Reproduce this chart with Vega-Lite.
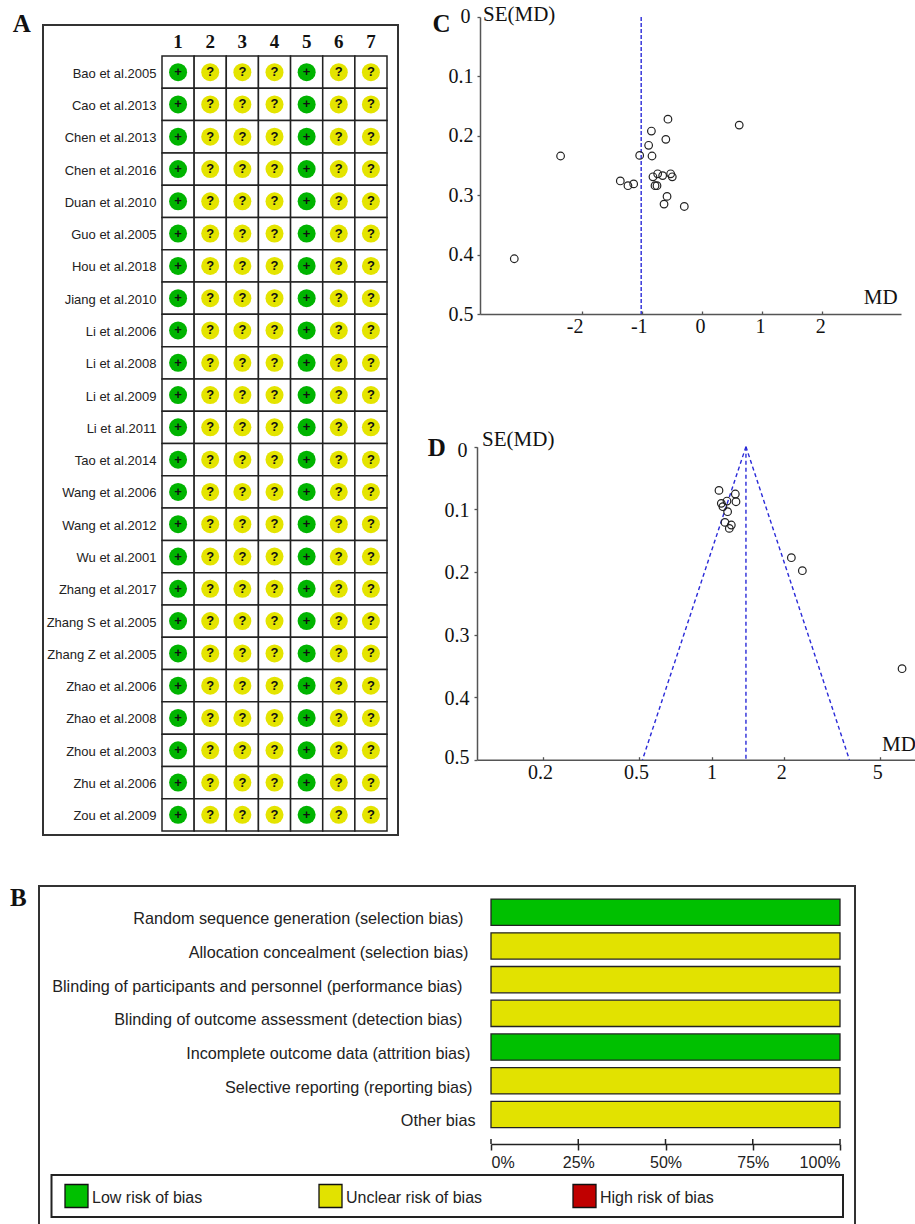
{"$schema":"https://vega.github.io/schema/vega-lite/v6.json","width":915,"height":1224,"autosize":{"type":"none"},"padding":0,"background":"white","config":{"view":{"stroke":null},"axis":{"grid":false,"title":null}},"resolve":{"scale":{"x":"independent","y":"independent","color":"independent"},"axis":{"x":"independent","y":"independent"}},"layer":[
{"data":{"values":[{"letter":"A"}]},"layer":[
{"mark":{"type":"rect","fill":"transparent","stroke":"#333","strokeWidth":2},"encoding":{"x":{"datum":0,"scale":{"domain":[0,1],"range":[43,398],"nice":false,"zero":false},"axis":null},"x2":{"datum":1},"y":{"datum":0,"scale":{"domain":[0,1],"range":[25,835],"nice":false,"zero":false},"axis":null},"y2":{"datum":1}}},
{"mark":{"type":"text","font":"Liberation Serif","fontWeight":"bold","fontSize":25,"align":"left","baseline":"middle","color":"#111"},"encoding":{"x":{"datum":-0.085,"scale":{"domain":[0,1],"range":[43,398],"nice":false,"zero":false},"axis":null},"y":{"datum":-0.001,"scale":{"domain":[0,1],"range":[25,835],"nice":false,"zero":false},"axis":null},"text":{"field":"letter"}}}
]},
{"data":{"name":"cells","values":[
{"study":"Bao et al.2005","domain":1,"sign":"+"},{"study":"Bao et al.2005","domain":2,"sign":"?"},{"study":"Bao et al.2005","domain":3,"sign":"?"},{"study":"Bao et al.2005","domain":4,"sign":"?"},{"study":"Bao et al.2005","domain":5,"sign":"+"},{"study":"Bao et al.2005","domain":6,"sign":"?"},{"study":"Bao et al.2005","domain":7,"sign":"?"},
{"study":"Cao et al.2013","domain":1,"sign":"+"},{"study":"Cao et al.2013","domain":2,"sign":"?"},{"study":"Cao et al.2013","domain":3,"sign":"?"},{"study":"Cao et al.2013","domain":4,"sign":"?"},{"study":"Cao et al.2013","domain":5,"sign":"+"},{"study":"Cao et al.2013","domain":6,"sign":"?"},{"study":"Cao et al.2013","domain":7,"sign":"?"},
{"study":"Chen et al.2013","domain":1,"sign":"+"},{"study":"Chen et al.2013","domain":2,"sign":"?"},{"study":"Chen et al.2013","domain":3,"sign":"?"},{"study":"Chen et al.2013","domain":4,"sign":"?"},{"study":"Chen et al.2013","domain":5,"sign":"+"},{"study":"Chen et al.2013","domain":6,"sign":"?"},{"study":"Chen et al.2013","domain":7,"sign":"?"},
{"study":"Chen et al.2016","domain":1,"sign":"+"},{"study":"Chen et al.2016","domain":2,"sign":"?"},{"study":"Chen et al.2016","domain":3,"sign":"?"},{"study":"Chen et al.2016","domain":4,"sign":"?"},{"study":"Chen et al.2016","domain":5,"sign":"+"},{"study":"Chen et al.2016","domain":6,"sign":"?"},{"study":"Chen et al.2016","domain":7,"sign":"?"},
{"study":"Duan et al.2010","domain":1,"sign":"+"},{"study":"Duan et al.2010","domain":2,"sign":"?"},{"study":"Duan et al.2010","domain":3,"sign":"?"},{"study":"Duan et al.2010","domain":4,"sign":"?"},{"study":"Duan et al.2010","domain":5,"sign":"+"},{"study":"Duan et al.2010","domain":6,"sign":"?"},{"study":"Duan et al.2010","domain":7,"sign":"?"},
{"study":"Guo et al.2005","domain":1,"sign":"+"},{"study":"Guo et al.2005","domain":2,"sign":"?"},{"study":"Guo et al.2005","domain":3,"sign":"?"},{"study":"Guo et al.2005","domain":4,"sign":"?"},{"study":"Guo et al.2005","domain":5,"sign":"+"},{"study":"Guo et al.2005","domain":6,"sign":"?"},{"study":"Guo et al.2005","domain":7,"sign":"?"},
{"study":"Hou et al.2018","domain":1,"sign":"+"},{"study":"Hou et al.2018","domain":2,"sign":"?"},{"study":"Hou et al.2018","domain":3,"sign":"?"},{"study":"Hou et al.2018","domain":4,"sign":"?"},{"study":"Hou et al.2018","domain":5,"sign":"+"},{"study":"Hou et al.2018","domain":6,"sign":"?"},{"study":"Hou et al.2018","domain":7,"sign":"?"},
{"study":"Jiang et al.2010","domain":1,"sign":"+"},{"study":"Jiang et al.2010","domain":2,"sign":"?"},{"study":"Jiang et al.2010","domain":3,"sign":"?"},{"study":"Jiang et al.2010","domain":4,"sign":"?"},{"study":"Jiang et al.2010","domain":5,"sign":"+"},{"study":"Jiang et al.2010","domain":6,"sign":"?"},{"study":"Jiang et al.2010","domain":7,"sign":"?"},
{"study":"Li et al.2006","domain":1,"sign":"+"},{"study":"Li et al.2006","domain":2,"sign":"?"},{"study":"Li et al.2006","domain":3,"sign":"?"},{"study":"Li et al.2006","domain":4,"sign":"?"},{"study":"Li et al.2006","domain":5,"sign":"+"},{"study":"Li et al.2006","domain":6,"sign":"?"},{"study":"Li et al.2006","domain":7,"sign":"?"},
{"study":"Li et al.2008","domain":1,"sign":"+"},{"study":"Li et al.2008","domain":2,"sign":"?"},{"study":"Li et al.2008","domain":3,"sign":"?"},{"study":"Li et al.2008","domain":4,"sign":"?"},{"study":"Li et al.2008","domain":5,"sign":"+"},{"study":"Li et al.2008","domain":6,"sign":"?"},{"study":"Li et al.2008","domain":7,"sign":"?"},
{"study":"Li et al.2009","domain":1,"sign":"+"},{"study":"Li et al.2009","domain":2,"sign":"?"},{"study":"Li et al.2009","domain":3,"sign":"?"},{"study":"Li et al.2009","domain":4,"sign":"?"},{"study":"Li et al.2009","domain":5,"sign":"+"},{"study":"Li et al.2009","domain":6,"sign":"?"},{"study":"Li et al.2009","domain":7,"sign":"?"},
{"study":"Li et al.2011","domain":1,"sign":"+"},{"study":"Li et al.2011","domain":2,"sign":"?"},{"study":"Li et al.2011","domain":3,"sign":"?"},{"study":"Li et al.2011","domain":4,"sign":"?"},{"study":"Li et al.2011","domain":5,"sign":"+"},{"study":"Li et al.2011","domain":6,"sign":"?"},{"study":"Li et al.2011","domain":7,"sign":"?"},
{"study":"Tao et al.2014","domain":1,"sign":"+"},{"study":"Tao et al.2014","domain":2,"sign":"?"},{"study":"Tao et al.2014","domain":3,"sign":"?"},{"study":"Tao et al.2014","domain":4,"sign":"?"},{"study":"Tao et al.2014","domain":5,"sign":"+"},{"study":"Tao et al.2014","domain":6,"sign":"?"},{"study":"Tao et al.2014","domain":7,"sign":"?"},
{"study":"Wang et al.2006","domain":1,"sign":"+"},{"study":"Wang et al.2006","domain":2,"sign":"?"},{"study":"Wang et al.2006","domain":3,"sign":"?"},{"study":"Wang et al.2006","domain":4,"sign":"?"},{"study":"Wang et al.2006","domain":5,"sign":"+"},{"study":"Wang et al.2006","domain":6,"sign":"?"},{"study":"Wang et al.2006","domain":7,"sign":"?"},
{"study":"Wang et al.2012","domain":1,"sign":"+"},{"study":"Wang et al.2012","domain":2,"sign":"?"},{"study":"Wang et al.2012","domain":3,"sign":"?"},{"study":"Wang et al.2012","domain":4,"sign":"?"},{"study":"Wang et al.2012","domain":5,"sign":"+"},{"study":"Wang et al.2012","domain":6,"sign":"?"},{"study":"Wang et al.2012","domain":7,"sign":"?"},
{"study":"Wu et al.2001","domain":1,"sign":"+"},{"study":"Wu et al.2001","domain":2,"sign":"?"},{"study":"Wu et al.2001","domain":3,"sign":"?"},{"study":"Wu et al.2001","domain":4,"sign":"?"},{"study":"Wu et al.2001","domain":5,"sign":"+"},{"study":"Wu et al.2001","domain":6,"sign":"?"},{"study":"Wu et al.2001","domain":7,"sign":"?"},
{"study":"Zhang et al.2017","domain":1,"sign":"+"},{"study":"Zhang et al.2017","domain":2,"sign":"?"},{"study":"Zhang et al.2017","domain":3,"sign":"?"},{"study":"Zhang et al.2017","domain":4,"sign":"?"},{"study":"Zhang et al.2017","domain":5,"sign":"+"},{"study":"Zhang et al.2017","domain":6,"sign":"?"},{"study":"Zhang et al.2017","domain":7,"sign":"?"},
{"study":"Zhang S et al.2005","domain":1,"sign":"+"},{"study":"Zhang S et al.2005","domain":2,"sign":"?"},{"study":"Zhang S et al.2005","domain":3,"sign":"?"},{"study":"Zhang S et al.2005","domain":4,"sign":"?"},{"study":"Zhang S et al.2005","domain":5,"sign":"+"},{"study":"Zhang S et al.2005","domain":6,"sign":"?"},{"study":"Zhang S et al.2005","domain":7,"sign":"?"},
{"study":"Zhang Z et al.2005","domain":1,"sign":"+"},{"study":"Zhang Z et al.2005","domain":2,"sign":"?"},{"study":"Zhang Z et al.2005","domain":3,"sign":"?"},{"study":"Zhang Z et al.2005","domain":4,"sign":"?"},{"study":"Zhang Z et al.2005","domain":5,"sign":"+"},{"study":"Zhang Z et al.2005","domain":6,"sign":"?"},{"study":"Zhang Z et al.2005","domain":7,"sign":"?"},
{"study":"Zhao et al.2006","domain":1,"sign":"+"},{"study":"Zhao et al.2006","domain":2,"sign":"?"},{"study":"Zhao et al.2006","domain":3,"sign":"?"},{"study":"Zhao et al.2006","domain":4,"sign":"?"},{"study":"Zhao et al.2006","domain":5,"sign":"+"},{"study":"Zhao et al.2006","domain":6,"sign":"?"},{"study":"Zhao et al.2006","domain":7,"sign":"?"},
{"study":"Zhao et al.2008","domain":1,"sign":"+"},{"study":"Zhao et al.2008","domain":2,"sign":"?"},{"study":"Zhao et al.2008","domain":3,"sign":"?"},{"study":"Zhao et al.2008","domain":4,"sign":"?"},{"study":"Zhao et al.2008","domain":5,"sign":"+"},{"study":"Zhao et al.2008","domain":6,"sign":"?"},{"study":"Zhao et al.2008","domain":7,"sign":"?"},
{"study":"Zhou et al.2003","domain":1,"sign":"+"},{"study":"Zhou et al.2003","domain":2,"sign":"?"},{"study":"Zhou et al.2003","domain":3,"sign":"?"},{"study":"Zhou et al.2003","domain":4,"sign":"?"},{"study":"Zhou et al.2003","domain":5,"sign":"+"},{"study":"Zhou et al.2003","domain":6,"sign":"?"},{"study":"Zhou et al.2003","domain":7,"sign":"?"},
{"study":"Zhu et al.2006","domain":1,"sign":"+"},{"study":"Zhu et al.2006","domain":2,"sign":"?"},{"study":"Zhu et al.2006","domain":3,"sign":"?"},{"study":"Zhu et al.2006","domain":4,"sign":"?"},{"study":"Zhu et al.2006","domain":5,"sign":"+"},{"study":"Zhu et al.2006","domain":6,"sign":"?"},{"study":"Zhu et al.2006","domain":7,"sign":"?"},
{"study":"Zou et al.2009","domain":1,"sign":"+"},{"study":"Zou et al.2009","domain":2,"sign":"?"},{"study":"Zou et al.2009","domain":3,"sign":"?"},{"study":"Zou et al.2009","domain":4,"sign":"?"},{"study":"Zou et al.2009","domain":5,"sign":"+"},{"study":"Zou et al.2009","domain":6,"sign":"?"},{"study":"Zou et al.2009","domain":7,"sign":"?"}
]},"encoding":{"x":{"field":"domain","type":"ordinal","scale":{"range":[162,387],"paddingInner":0,"paddingOuter":0},"axis":{"orient":"top","offset":-56,"ticks":false,"domain":false,"labelAngle":0,"labelFont":"Liberation Serif","labelFontWeight":"bold","labelFontSize":19,"labelColor":"#111","labelPadding":5}},"y":{"field":"study","type":"nominal","sort":null,"scale":{"range":[56,831],"paddingInner":0,"paddingOuter":0},"axis":{"orient":"left","offset":-162,"ticks":false,"domain":false,"labelFont":"Liberation Sans","labelFontSize":13,"labelColor":"#222","labelPadding":6,"labelLimit":200,"labelOffset":1.5}}},"layer":[
{"mark":{"type":"rect","fill":"white","stroke":"#222","strokeWidth":1.5}},
{"mark":{"type":"point","filled":true,"opacity":1,"size":324},"encoding":{"color":{"field":"sign","type":"nominal","scale":{"domain":["+","?"],"range":["#00b400","#e4e400"]},"legend":null}}},
{"mark":{"type":"text","font":"Liberation Sans","fontWeight":"bold","fontSize":13,"baseline":"middle","color":"#111"},"encoding":{"text":{"field":"sign"}}}
]},
{"data":{"values":[{"letter":"B"}]},"layer":[
{"mark":{"type":"rect","fill":"transparent","stroke":"#333","strokeWidth":2},"encoding":{"x":{"datum":0,"scale":{"domain":[0,1],"range":[39,855],"nice":false,"zero":false},"axis":null},"x2":{"datum":1},"y":{"datum":0,"scale":{"domain":[0,1],"range":[886,1240],"nice":false,"zero":false},"axis":null},"y2":{"datum":1}}},
{"mark":{"type":"text","font":"Liberation Serif","fontWeight":"bold","fontSize":25,"align":"left","baseline":"middle","color":"#111"},"encoding":{"x":{"datum":-0.0355,"scale":{"domain":[0,1],"range":[39,855],"nice":false,"zero":false},"axis":null},"y":{"datum":0.034,"scale":{"domain":[0,1],"range":[886,1240],"nice":false,"zero":false},"axis":null},"text":{"field":"letter"}}}
]},
{"data":{"values":[{"item":"Random sequence generation (selection bias)","risk":"Low","percent":100},{"item":"Allocation concealment (selection bias)","risk":"Unclear","percent":100},{"item":"Blinding of participants and personnel (performance bias)","risk":"Unclear","percent":100},{"item":"Blinding of outcome assessment (detection bias)","risk":"Unclear","percent":100},{"item":"Incomplete outcome data (attrition bias)","risk":"Low","percent":100},{"item":"Selective reporting (reporting bias)","risk":"Unclear","percent":100},{"item":"Other bias","risk":"Unclear","percent":100}]},
"mark":{"type":"bar","stroke":"#222","strokeWidth":1.3},"encoding":{"x":{"field":"percent","type":"quantitative","stack":null,"scale":{"domain":[0,100],"range":[491,840],"nice":false},"axis":{"orient":"bottom","offset":-80,"zindex":1,"values":[0,25,50,75,100],"labelExpr":"datum.value+'%'","labelFlush":true,"tickSize":6,"tickColor":"#222","tickWidth":1.5,"domainColor":"#222","domainWidth":1.5,"labelFont":"Liberation Sans","labelFontSize":16,"labelColor":"#222","labelPadding":4}},"y":{"field":"item","type":"nominal","sort":null,"scale":{"range":[895.4,1131.3],"paddingInner":0.22,"paddingOuter":0.11},"axis":{"orient":"left","offset":-491,"zindex":1,"ticks":false,"domain":false,"labelFont":"Liberation Sans","labelFontSize":16.2,"labelColor":"#222","labelLimit":500,"labelOffset":7,"labelPadding":{"expr":"test(/^Other/,datum.label)?16:test(/^Selective/,datum.label)?19:test(/^Incomplete/,datum.label)?21:test(/^Allocation/,datum.label)?23:test(/^Random/,datum.label)?28:29"}}},"color":{"field":"risk","type":"nominal","scale":{"domain":["Low","Unclear","High"],"range":["#00c000","#e2e200","#c00000"]},"legend":null}}},
{"data":{"values":[{"tick":0},{"tick":25},{"tick":50},{"tick":75},{"tick":100}]},"mark":{"type":"rule","color":"#222","strokeWidth":1.5},"encoding":{"x":{"field":"tick","type":"quantitative","scale":{"domain":[0,100],"range":[491,840],"nice":false},"axis":null},"y":{"datum":0,"scale":{"domain":[0,1],"range":[1139,1144],"nice":false,"zero":false},"axis":null},"y2":{"datum":1}}},
{"data":{"values":[{"box":"legend"}]},"mark":{"type":"rect","fill":"white","stroke":"#222","strokeWidth":2},"encoding":{"x":{"datum":0,"scale":{"domain":[0,1],"range":[51.5,843],"nice":false,"zero":false},"axis":null},"x2":{"datum":1},"y":{"datum":0,"scale":{"domain":[0,1],"range":[1175,1217],"nice":false,"zero":false},"axis":null},"y2":{"datum":1}}},
{"data":{"values":[{"risk":"Low","label":"Low risk of bias"},{"risk":"Unclear","label":"Unclear risk of bias"},{"risk":"High","label":"High risk of bias"}]},"encoding":{"x":{"field":"risk","type":"nominal","sort":null,"scale":{"domain":["Low","Unclear","High"],"range":[-50.5,711.5],"paddingInner":0,"paddingOuter":0},"axis":null},"y":{"datum":0.5,"scale":{"domain":[0,1],"range":[1175,1217],"nice":false,"zero":false},"axis":null}},"layer":[
{"mark":{"type":"point","shape":"square","filled":true,"opacity":1,"size":529,"stroke":"#111","strokeWidth":1.3},"encoding":{"color":{"field":"risk","type":"nominal","scale":{"domain":["Low","Unclear","High"],"range":["#00c000","#e2e200","#c00000"]},"legend":null}}},
{"mark":{"type":"text","font":"Liberation Sans","fontSize":16,"align":"left","baseline":"middle","dx":15.5,"dy":1.5,"color":"#222"},"encoding":{"text":{"field":"label"}}}
]},
{"data":{"values":[{"md":-0.565,"se":0.172},{"md":0.62,"se":0.182},{"md":-0.84,"se":0.192},{"md":-0.6,"se":0.206},{"md":-0.886,"se":0.216},{"md":-1.035,"se":0.233},{"md":-0.83,"se":0.234},{"md":-2.35,"se":0.234},{"md":-1.357,"se":0.276},{"md":-1.23,"se":0.284},{"md":-1.135,"se":0.281},{"md":-0.814,"se":0.269},{"md":-0.736,"se":0.264},{"md":-0.653,"se":0.267},{"md":-0.52,"se":0.264},{"md":-0.493,"se":0.269},{"md":-0.78,"se":0.284},{"md":-0.747,"se":0.284},{"md":-0.58,"se":0.302},{"md":-0.63,"se":0.315},{"md":-0.293,"se":0.319},{"md":-3.12,"se":0.407}]},"layer":[
{"mark":{"type":"rule","color":"#2a2ad8","strokeWidth":1.4,"strokeDash":[4,2]},"data":{"values":[{"line":"pooled"}]},"encoding":{"x":{"datum":-1.01,"scale":{"domain":[-3.69,3.31],"range":[480,901],"nice":false,"zero":false}},"y":{"datum":0,"scale":{"domain":[0,0.5],"range":[17,314],"nice":false,"zero":false}},"y2":{"datum":0.5}}},
{"mark":{"type":"point","filled":false,"size":58,"color":"#222","strokeWidth":1.2,"opacity":1},"encoding":{"x":{"field":"md","type":"quantitative","scale":{"domain":[-3.69,3.31],"range":[480,901],"nice":false,"zero":false},"axis":{"orient":"bottom","offset":-910,"values":[-2,-1,0,1,2],"labelExpr":"''+datum.value","labelOffset":{"expr":"datum.value==-2?-7:datum.value==-1?-3:-2"},"tickSize":-3,"tickColor":"#555","tickWidth":1.3,"domainColor":"#555","domainWidth":1.5,"labelFont":"Liberation Serif","labelFontSize":20,"labelColor":"#111","labelPadding":5}},"y":{"field":"se","type":"quantitative","scale":{"domain":[0,0.5],"range":[17,314],"nice":false,"zero":false},"axis":{"orient":"left","offset":-480,"values":[0,0.1,0.2,0.3,0.4,0.5],"format":".1~f","tickSize":3,"tickColor":"#555","tickWidth":1.3,"domainColor":"#555","domainWidth":1.5,"labelFont":"Liberation Serif","labelFontSize":20,"labelColor":"#111","labelPadding":{"expr":"datum.value==0?7:4"},"labelOffset":{"expr":"datum.value==0?-1:0"}}}}},
{"data":{"values":[{"md":-3.64,"se":-0.003,"label":"SE(MD)"},{"md":2.69,"se":0.473,"label":"MD"}]},"mark":{"type":"text","font":"Liberation Serif","fontSize":21,"align":"left","baseline":"middle","color":"#111"},"encoding":{"x":{"field":"md","type":"quantitative","scale":{"domain":[-3.69,3.31],"range":[480,901],"nice":false,"zero":false}},"y":{"field":"se","type":"quantitative","scale":{"domain":[0,0.5],"range":[17,314],"nice":false,"zero":false}},"text":{"field":"label"}}},
{"data":{"values":[{"md":-4.48,"se":0.011,"label":"C"}]},"mark":{"type":"text","font":"Liberation Serif","fontWeight":"bold","fontSize":25,"align":"left","baseline":"middle","color":"#111"},"encoding":{"x":{"field":"md","type":"quantitative","scale":{"domain":[-3.69,3.31],"range":[480,901],"nice":false,"zero":false}},"y":{"field":"se","type":"quantitative","scale":{"domain":[0,0.5],"range":[17,314],"nice":false,"zero":false}},"text":{"field":"label"}}}
]},
{"data":{"values":[{"md":1.073,"se":0.0698},{"md":1.254,"se":0.0756},{"md":1.262,"se":0.0879},{"md":1.158,"se":0.0868},{"md":1.097,"se":0.0905},{"md":1.114,"se":0.0958},{"md":1.165,"se":0.1038},{"md":1.136,"se":0.1209},{"md":1.207,"se":0.1251},{"md":1.184,"se":0.1305},{"md":2.141,"se":0.1773},{"md":2.378,"se":0.1981},{"md":6.16,"se":0.3546}]},"layer":[
{"data":{"values":[{"limit":"lower","md":0.517,"se":0.5},{"limit":"lower","md":1.388,"se":0},{"limit":"upper","md":3.726,"se":0.5},{"limit":"upper","md":1.388,"se":0},{"limit":"pooled","md":1.388,"se":0},{"limit":"pooled","md":1.388,"se":0.5}]},"mark":{"type":"line","color":"#2a2ad8","strokeWidth":1.4,"strokeDash":[4,3]},"encoding":{"detail":{"field":"limit"},"order":{"field":"se","type":"quantitative"},"x":{"field":"md","type":"quantitative","scale":{"type":"log","domain":[0.1065,6.97],"range":[477,915],"nice":false,"zero":false}},"y":{"field":"se","type":"quantitative","scale":{"domain":[0,0.5],"range":[446.7,759.7],"nice":false,"zero":false}}}},
{"mark":{"type":"point","filled":false,"size":58,"color":"#222","strokeWidth":1.2,"opacity":1},"encoding":{"x":{"field":"md","type":"quantitative","scale":{"type":"log","domain":[0.1065,6.97],"range":[477,915],"nice":false,"zero":false},"axis":{"orient":"bottom","offset":-464.3,"values":[0.2,0.5,1,2,5],"labelExpr":"''+datum.value","labelOffset":{"expr":"datum.value==1?0:-3"},"tickSize":-3,"tickColor":"#555","tickWidth":1.3,"domainColor":"#555","domainWidth":1.5,"labelFont":"Liberation Serif","labelFontSize":20,"labelColor":"#111","labelPadding":6}},"y":{"field":"se","type":"quantitative","scale":{"domain":[0,0.5],"range":[446.7,759.7],"nice":false,"zero":false},"axis":{"orient":"left","offset":-477,"values":[0,0.1,0.2,0.3,0.4,0.5],"format":".1~f","tickSize":3,"tickColor":"#555","tickWidth":1.3,"domainColor":"#555","domainWidth":1.5,"labelFont":"Liberation Serif","labelFontSize":20,"labelColor":"#111","labelPadding":{"expr":"datum.value==0?7:5"},"labelOffset":{"expr":"datum.value==0?4:datum.value==0.5?-2:1"}}}}},
{"data":{"values":[{"md":0.1118,"se":-0.0107,"label":"SE(MD)"},{"md":5.09,"se":0.4765,"label":"MD"}]},"mark":{"type":"text","font":"Liberation Serif","fontSize":21,"align":"left","baseline":"middle","color":"#111"},"encoding":{"x":{"field":"md","type":"quantitative","scale":{"type":"log","domain":[0.1065,6.97],"range":[477,915],"nice":false,"zero":false}},"y":{"field":"se","type":"quantitative","scale":{"domain":[0,0.5],"range":[446.7,759.7],"nice":false,"zero":false}},"text":{"field":"label"}}},
{"data":{"values":[{"md":0.0665,"se":0.002,"label":"D"}]},"mark":{"type":"text","font":"Liberation Serif","fontWeight":"bold","fontSize":25,"align":"left","baseline":"middle","color":"#111"},"encoding":{"x":{"field":"md","type":"quantitative","scale":{"type":"log","domain":[0.1065,6.97],"range":[477,915],"nice":false,"zero":false}},"y":{"field":"se","type":"quantitative","scale":{"domain":[0,0.5],"range":[446.7,759.7],"nice":false,"zero":false}},"text":{"field":"label"}}}
]}
]}
